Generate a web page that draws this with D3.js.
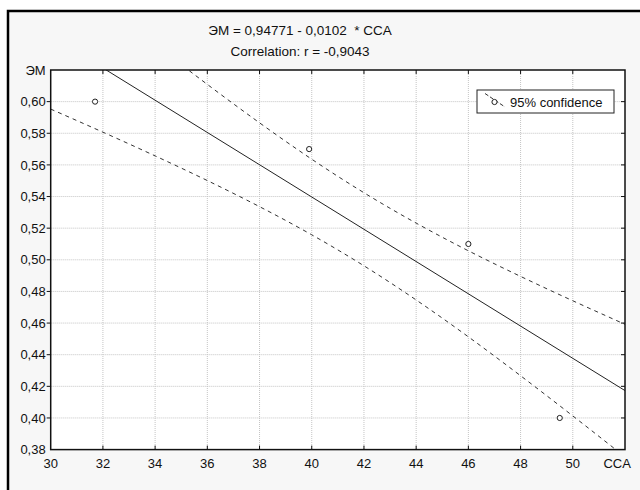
<!DOCTYPE html>
<html>
<head>
<meta charset="utf-8">
<script src="https://cdn.jsdelivr.net/npm/d3@7"></script>
<style>
  body { margin: 0; background: #fff; }
  svg text { font-family: "Liberation Sans", Arial, sans-serif; fill: #111; }
</style>
</head>
<body>
<div id="main"></div>
<script>
// observed points (CCA, ЭМ)
var ccaValues = [31.7, 39.9, 46.0, 49.5];
var emValues = [0.60, 0.57, 0.51, 0.40];

// regression line ends
var fitX = [30, 52];
var fitY = [0.6417, 0.4173];

// confidence band, read at each x tick
var bandX = [30, 32, 34, 36, 38, 40, 42, 44, 46, 48, 50, 52];
var bandUpper = [0.6881, 0.6619, 0.6361, 0.6109, 0.5866, 0.5636, 0.5424, 0.5232, 0.5057, 0.4895, 0.4741, 0.4592];
var bandLower = [0.5953, 0.5807, 0.5657, 0.5501, 0.5336, 0.5158, 0.4962, 0.4746, 0.4513, 0.4267, 0.4013, 0.3754];

var xTicks = [30, 32, 34, 36, 38, 40, 42, 44, 46, 48, 50];
var yTicks = [0.38, 0.40, 0.42, 0.44, 0.46, 0.48, 0.50, 0.52, 0.54, 0.56, 0.58, 0.60];

var titleLines = ['ЭМ = 0,94771 - 0,0102  * CCA', 'Correlation: r = -0,9043'];
var legendLabel = '95% confidence';

var W = 640, H = 490;
var margins = { top: 70, bottom: 40.4, left: 50.7, right: 15 };
var width = W - margins.left - margins.right, height = H - margins.top - margins.bottom;

var x = d3.scaleLinear().domain([30, 52]).range([0, width]);
var y = d3.scaleLinear().domain([0.38, 0.62]).range([height, 0]);
var fmt = function(d) { return d3.format('.2f')(d).replace('.', ','); };

var svg = d3.select('#main').append('svg')
    .attr('width', W).attr('height', H);

// grey panel inside the black frame
svg.append('rect').attr('x', 8).attr('y', 11).attr('width', W - 8).attr('height', H - 11)
    .style('fill', '#f7f7f7');
svg.append('path').attr('d', 'M 8 490 L 8 11 L 640 11')
    .style('fill', 'none').style('stroke', '#000').style('stroke-width', 2.5);

// titles
svg.selectAll('.title').data(titleLines)
    .enter().append('text')
    .attr('class', 'title')
    .attr('x', 300).attr('y', function(d, i) { return 35 + i * 21; })
    .style('font-size', '13.5px')
    .style('white-space', 'pre')
    .style('text-anchor', 'middle')
    .text(function(d) { return d; });

var chart = svg.append('g')
    .attr('transform', 'translate(' + margins.left + ',' + margins.top + ')');

chart.append('rect').attr('width', width).attr('height', height).style('fill', '#fff');

chart.append('clipPath').attr('id', 'plotClip')
    .append('rect').attr('width', width).attr('height', height);

// grid
chart.selectAll('.vgrid').data(xTicks.slice(1))
    .enter().append('line')
    .attr('class', 'vgrid')
    .attr('x1', function(d) { return x(d); }).attr('x2', function(d) { return x(d); })
    .attr('y1', 0).attr('y2', height)
    .style('stroke', '#c4c4c4').style('stroke-dasharray', '1,1');
chart.selectAll('.hgrid').data(yTicks.slice(1))
    .enter().append('line')
    .attr('class', 'hgrid')
    .attr('y1', function(d) { return y(d); }).attr('y2', function(d) { return y(d); })
    .attr('x1', 0).attr('x2', width)
    .style('stroke', '#c4c4c4').style('stroke-dasharray', '1,1');

var plot = chart.append('g').attr('clip-path', 'url(#plotClip)');

var bandLine = function(vals) {
    return d3.line()
        .x(function(d, i) { return x(bandX[i]); })
        .y(function(d) { return y(d); })
        .curve(d3.curveNatural)(vals);
};
[bandUpper, bandLower].forEach(function(vals) {
    plot.append('path')
        .attr('d', bandLine(vals))
        .style('fill', 'none').style('stroke', '#333')
        .style('stroke-width', 1).style('stroke-dasharray', '4,4');
});

plot.append('path')
    .attr('d', d3.line()
        .x(function(d, i) { return x(fitX[i]); })
        .y(function(d) { return y(d); })(fitY))
    .style('fill', 'none').style('stroke', '#222').style('stroke-width', 1);

plot.selectAll('.point').data(ccaValues)
    .enter().append('circle')
    .attr('class', 'point')
    .attr('cx', function(d) { return x(d); })
    .attr('cy', function(d, i) { return y(emValues[i]); })
    .attr('r', 2.6)
    .style('fill', '#fff').style('stroke', '#222').style('stroke-width', 1);

// frame and axes
chart.append('rect').attr('width', width).attr('height', height)
    .style('fill', 'none').style('stroke', '#111').style('stroke-width', 1.5);

var tickLen = 4;
chart.selectAll('.ltick').data(yTicks.slice(1))
    .enter().append('line').attr('class', 'ltick')
    .attr('x1', -tickLen).attr('x2', 0)
    .attr('y1', function(d) { return y(d); }).attr('y2', function(d) { return y(d); })
    .style('stroke', '#111');
chart.selectAll('.rtick').data(yTicks.slice(1))
    .enter().append('line').attr('class', 'rtick')
    .attr('x1', width - tickLen).attr('x2', width)
    .attr('y1', function(d) { return y(d); }).attr('y2', function(d) { return y(d); })
    .style('stroke', '#111');
chart.selectAll('.btick').data(xTicks.slice(1))
    .enter().append('line').attr('class', 'btick')
    .attr('y1', height - tickLen).attr('y2', height)
    .attr('x1', function(d) { return x(d); }).attr('x2', function(d) { return x(d); })
    .style('stroke', '#111');
chart.selectAll('.ttick').data(xTicks.slice(1))
    .enter().append('line').attr('class', 'ttick')
    .attr('y1', 0).attr('y2', tickLen)
    .attr('x1', function(d) { return x(d); }).attr('x2', function(d) { return x(d); })
    .style('stroke', '#111');

chart.selectAll('.ylabel').data(yTicks)
    .enter().append('text').attr('class', 'ylabel')
    .attr('x', -5).attr('y', function(d) { return y(d); })
    .attr('dy', '0.36em')
    .style('font-size', '13px').style('text-anchor', 'end')
    .text(fmt);
chart.append('text')
    .attr('x', -5).attr('y', y(0.62)).attr('dy', '0.36em')
    .style('font-size', '13px').style('text-anchor', 'end')
    .text('ЭМ');

chart.selectAll('.xlabel').data(xTicks)
    .enter().append('text').attr('class', 'xlabel')
    .attr('x', function(d) { return x(d); }).attr('y', height + 18)
    .style('font-size', '13px').style('text-anchor', 'middle')
    .text(function(d) { return d; });
chart.append('text')
    .attr('x', x(51.7)).attr('y', height + 18)
    .style('font-size', '13px').style('text-anchor', 'middle')
    .text('CCA');

// legend
var legend = svg.append('g').attr('transform', 'translate(477,90)');
legend.append('rect').attr('width', 137).attr('height', 23)
    .style('fill', '#fff').style('stroke', '#222').style('stroke-width', 1);
legend.append('line').attr('x1', 8).attr('y1', 3.5).attr('x2', 28).attr('y2', 17)
    .style('stroke', '#333').style('stroke-dasharray', '4,2');
legend.append('circle').attr('cx', 17.5).attr('cy', 12).attr('r', 2.6)
    .style('fill', '#fff').style('stroke', '#222');
legend.append('text').attr('x', 33).attr('y', 16.5)
    .style('font-size', '13px')
    .text(legendLabel);
</script>
</body>
</html>
